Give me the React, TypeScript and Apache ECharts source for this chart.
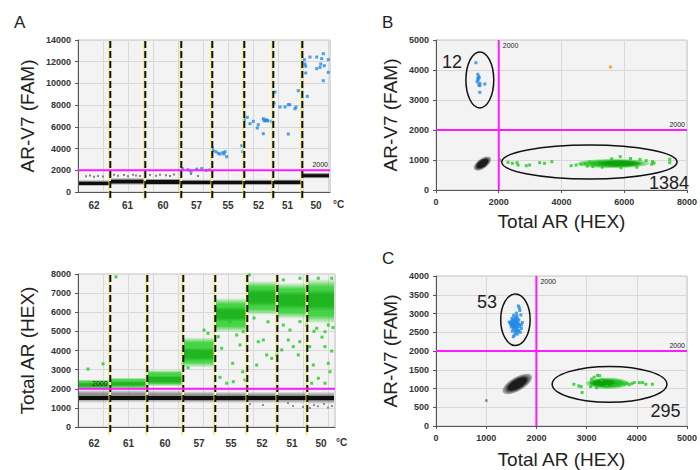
import React, { useEffect, useRef } from 'react';
import * as echarts from 'echarts';

const FONT = '"Liberation Sans", Arial, sans-serif';

// ---------- data ----------
const wellTemps = ['62', '61', '60', '57', '55', '52', '51', '50'];
// cumulative droplet-event positions of the well boundaries (relative units)
const wellBoundsFam = [0, 32, 67, 103, 134, 166, 195, 224, 252];
const wellBoundsHex = [0, 32, 69, 105, 137, 169, 199, 229, 257];

// dense negative (black) droplet bands per well: [low, high]
const famNegCore = [[640, 960], [770, 1140], [730, 1100], [710, 1060], [700, 1050], [710, 1060], [720, 1070], [1330, 1640]];
const famNegHalo = [[540, 1100], [640, 1300], [620, 1250], [610, 1170], [600, 1160], [610, 1170], [620, 1180], [1230, 1800]];
const hexNegCore = [[1390, 1630], [1400, 1640], [1400, 1640], [1380, 1630], [1380, 1630], [1390, 1630], [1390, 1630], [1380, 1630]];
const hexNegHalo = [[1250, 1950], [1270, 1950], [1260, 1920], [1240, 1880], [1240, 1860], [1240, 1850], [1230, 1860], [1200, 1850]];
// dense positive (green) bands per well in the HEX channel
const hexPosCore = [[2080, 2320], [2130, 2390], [2280, 2680], [3450, 4150], [5500, 6300], [6300, 7250], [6150, 7100], [6050, 7200]];
const hexPosHalo = [[1980, 2480], [2000, 2580], [2120, 2980], [3100, 4700], [4950, 6750], [5850, 7650], [5650, 7550], [5400, 7750]];

// AR-V7 (FAM) positive droplets in the temperature gradient [event, amplitude]
const famPosGradient = [
  [104.7, 2150], [110, 2050], [113, 1870], [118.7, 2100], [123.7, 2150], [128, 2000], [132, 2050],
  [134.3, 4020], [135.3, 3800], [138, 3710], [140.3, 3560], [142, 3500], [144.7, 3620], [146, 3500], [148.7, 3250], [147, 3710], [163.7, 4260], [164.7, 3710],
  [166.3, 6660], [169.3, 6880], [172, 6290], [175.3, 6510], [180.3, 6200], [179.3, 5900], [185.3, 6750], [186, 6600], [187, 6550], [188, 6650], [189, 6600], [190, 6550], [185.3, 5370], [193.7, 6510],
  [197, 9210], [196, 8200], [202, 7830], [207, 7830], [210.3, 8040], [211.8, 8040], [217, 7670], [218, 7830], [210.3, 5340], [220.3, 9330],
  [226.3, 12190], [227, 11790], [227.7, 11580], [227.7, 10960], [232, 12430], [238.7, 12430], [238.7, 11360], [243.7, 12280], [245.3, 12740], [242.7, 11790],
  [246.3, 11630], [242, 11480], [245.3, 10250], [250.3, 12190], [250.3, 11020], [229.3, 8810],
];
const famNegScatter = [
  [8, 1450], [12, 1520], [16, 1400], [20, 1480], [25, 1430], [36, 1580], [40, 1500], [46, 1560], [50, 1450], [55, 1600],
  [58, 1520], [62, 1480], [72, 1560], [78, 1500], [82, 1600], [88, 1550], [92, 1480], [96, 1620], [113, 1660], [120, 1480],
];
// Total AR (HEX) scattered droplets
const hexPosScatter = [
  [10, 3030], [25, 3300], [38, 7850],
  [104.7, 3330], [126, 5070], [130, 4900], [110, 3100],
  [143.7, 4115], [154.7, 3330], [164.7, 2890], [148.7, 2290], [155.3, 2370], [167, 2460], [142, 2600], [140.3, 4720], [152, 5510], [158.7, 4810], [165.3, 4980], [162, 4290],
  [178.7, 3240], [180.3, 4460], [185.3, 4550], [188.7, 3770], [193.7, 3590], [198.7, 3770], [171.3, 7950], [176, 5700], [190, 5500],
  [203.7, 4030], [205.3, 5330], [205.3, 7690], [210.3, 4550], [212, 5070], [215.3, 4200], [220.3, 3770], [221.7, 4460], [222, 5510], [222, 7780], [228.7, 5330],
  [231.7, 4200], [233.7, 2290], [235.3, 3240], [238.7, 5160], [240.3, 2550], [240.3, 7780], [247, 4980], [247, 4200], [247, 2290], [250.3, 3330], [250.3, 5330],
  [252, 2890], [253.7, 3970], [253.7, 7780], [236, 5000], [244, 4700], [255, 5200],
];
const hexNegScatter = [
  [172, 1200], [185, 1150], [210, 1250], [215, 1100], [225, 1050], [232, 1000], [236, 1150], [240, 1080], [246, 1200], [250, 1020], [254, 1100],
];

// 2D plot B: [HEX, FAM]
const bFamPos = [
  [1270, 4243], [1333, 3856], [1376, 3744], [1344, 3667], [1312, 3611], [1397, 3556],
  [1365, 3500], [1397, 3478], [1556, 3533], [1397, 3256], [1333, 3722], [1360, 3780],
];
const bHexPos = [
  [2032, 1000], [2296, 922], [2434, 889], [2582, 911], [2614, 833], [2878, 811], [2984, 833], [3302, 911], [3460, 889], [3693, 944],
  [4307, 811], [4466, 833], [4624, 856], [4750, 880], [4820, 800], [4900, 930], [5873, 1111], [5600, 1040], [6200, 1050], [6500, 1020],
  [6700, 980], [6899, 944], [6878, 856], [6950, 900], [7450, 1022], [7450, 911], [5000, 780], [5300, 760], [5900, 740], [6400, 760],
];
const bDoublePos = [[5560, 4100]];
// clusters: [centerHEX, centerFAM, spreadHEX, spreadFAM, tilt°]
const bNegCluster = [[1480, 880, 320, 170, 35]];
const bHexCluster = [[5650, 880, 1150, 150, 0]];
const bHexCore = [[5850, 885, 700, 105, 0]];
// gates: [centerHEX, centerFAM, radiusHEX, radiusFAM]
const bGates = [[1397, 3667, 444, 933], [4889, 933, 2794, 567]];
const bCounts = ['12', '1384'];
const bCountPos = [[508, 4267], [7429, 233]];

// 2D plot C
const cFamPos = [
  [1641, 3200], [1660, 3150], [1670, 3080], [1600, 3010], [1545, 2950], [1690, 2960], [1580, 2900], [1620, 2870], [1530, 2850], [1560, 2820],
  [1590, 2800], [1505, 2790], [1540, 2780], [1570, 2760], [1610, 2760], [1480, 2750], [1520, 2740], [1550, 2730], [1590, 2720], [1640, 2720],
  [1500, 2700], [1560, 2700], [1610, 2690], [1530, 2680], [1580, 2660], [1660, 2650], [1500, 2640], [1620, 2630], [1560, 2620], [1700, 2600],
  [1540, 2590], [1600, 2560], [1650, 2550], [1520, 2530], [1680, 2500], [1580, 2480], [1620, 2450], [1560, 2420], [1540, 2380], [1700, 2690],
  [1460, 2770], [1650, 2830], [1720, 2760], [1585, 2840], [1610, 2940], [1545, 2660], [1595, 2610], [1630, 2780], [1515, 2870], [1665, 2700],
  [1575, 2540], [1625, 2520], [1490, 2720],
];
const cHexPos = [
  [2747, 1113], [2845, 1068], [2891, 1050], [2910, 893], [3217, 1351], [3260, 1340], [3150, 1300], [3100, 1250], [3080, 1050], [3700, 1150],
  [3750, 1120], [3800, 1140], [3850, 1100], [3900, 1130], [3950, 1160], [4050, 1157], [4115, 1157], [4180, 1113], [4310, 1113], [3650, 1100],
  [3600, 1180], [3550, 1090], [3400, 1060], [3300, 1230], [3200, 1020],
];
const cNegOutlier = [[1003, 680]];
const cNegCluster = [[1620, 1120, 332, 185, 30]];
const cHexCluster = [[3420, 1140, 430, 150, 0]];
const cHexCore = [[3330, 1150, 270, 100, 0]];
const cGates = [[1582, 2834, 293, 689], [3457, 1113, 1143, 477]];
const cCounts = ['53', '295'];
const cCountPos = [[1016, 3311], [4570, 397]];

const threshold = 2000;

// ---------- helpers ----------
const C_BLUE = '#1f8ae6';
const C_GREEN = '#22c822';
const C_MAGENTA = '#ff1aff';

function bandData(bounds: number[], bands: number[][]) {
  return bands.map((b, i) => [bounds[i], bounds[i + 1], b[0], b[1]]);
}

function softFill(rgb: string, peak: number, edge: number) {
  return new echarts.graphic.LinearGradient(0, 0, 0, 1, [
    { offset: 0, color: `rgba(${rgb},0)` },
    { offset: edge, color: `rgba(${rgb},${peak})` },
    { offset: 1 - edge, color: `rgba(${rgb},${peak})` },
    { offset: 1, color: `rgba(${rgb},0)` },
  ]);
}

function bandSeries(idx: number, data: number[][], rgb: string, peak: number, edge: number, z: number) {
  return {
    type: 'custom', xAxisIndex: idx, yAxisIndex: idx, data, clip: true, silent: true, z,
    renderItem: (params: any, api: any) => {
      const p0 = api.coord([api.value(0), api.value(3)]);
      const p1 = api.coord([api.value(1), api.value(2)]);
      return {
        type: 'rect',
        shape: { x: p0[0] + 1, y: p0[1], width: p1[0] - p0[0] - 2, height: p1[1] - p0[1] },
        style: { fill: softFill(rgb, peak, edge) },
      };
    },
  };
}

function scatterSeries(idx: number, data: number[][], color: string, size: number, z = 3) {
  return {
    type: 'scatter', xAxisIndex: idx, yAxisIndex: idx, data, symbol: 'rect', symbolSize: size,
    itemStyle: { color }, silent: true, z,
  };
}

function wellLineSeries(idx: number, bounds: number[], yMax: number) {
  return {
    type: 'custom', xAxisIndex: idx, yAxisIndex: idx, clip: false, silent: true, z: 5,
    data: bounds.slice(1, -1).map((b) => [b, 0]),
    renderItem: (params: any, api: any) => {
      const t = api.coord([api.value(0), yMax]);
      const b = api.coord([api.value(0), 0]);
      return {
        type: 'group',
        children: [
          { type: 'line', shape: { x1: t[0] - 0.8, y1: t[1], x2: b[0] - 0.8, y2: b[1] + 8 }, style: { stroke: '#f2ea48', lineWidth: 1.4 } },
          { type: 'line', shape: { x1: t[0] + 0.3, y1: t[1] + 1, x2: b[0] + 0.3, y2: b[1] + 8 }, style: { stroke: '#111', lineWidth: 2, lineDash: [7, 3] } },
        ],
      };
    },
  };
}

function wellLabelSeries(idx: number, bounds: number[], dy: number) {
  return {
    type: 'custom', xAxisIndex: idx, yAxisIndex: idx, clip: false, silent: true, z: 6,
    data: wellTemps.map((_, i) => [(bounds[i] + bounds[i + 1]) / 2, 0]),
    renderItem: (params: any, api: any) => {
      const p = api.coord([api.value(0), 0]);
      return {
        type: 'text', x: p[0], y: p[1] + dy,
        style: {
          text: wellTemps[params.dataIndex], fill: '#333', font: `bold 10px ${FONT}`,
          align: 'center', verticalAlign: 'middle', textAlign: 'center', textVerticalAlign: 'middle',
        },
      };
    },
  };
}

function hThresholdSeries(idx: number, xMin: number, xMax: number, labelLeft: boolean) {
  return {
    type: 'custom', xAxisIndex: idx, yAxisIndex: idx, clip: false, silent: true, z: 8,
    data: [[xMin, threshold]],
    renderItem: (params: any, api: any) => {
      const a = api.coord([xMin, api.value(1)]);
      const b = api.coord([xMax, api.value(1)]);
      return {
        type: 'group',
        children: [
          { type: 'line', shape: { x1: a[0], y1: a[1], x2: b[0], y2: b[1] }, style: { stroke: C_MAGENTA, lineWidth: 2 } },
          {
            type: 'text', x: labelLeft ? a[0] + 14 : b[0] - 2, y: a[1] - 2,
            style: {
              text: String(threshold), fill: '#222', font: `7px ${FONT}`,
              align: labelLeft ? 'left' : 'right', verticalAlign: 'bottom',
              textAlign: labelLeft ? 'left' : 'right', textVerticalAlign: 'bottom',
            },
          },
        ],
      };
    },
  };
}

function vThresholdSeries(idx: number, yMax: number) {
  return {
    type: 'custom', xAxisIndex: idx, yAxisIndex: idx, clip: false, silent: true, z: 8,
    data: [[threshold, 0]],
    renderItem: (params: any, api: any) => {
      const a = api.coord([api.value(0), 0]);
      const b = api.coord([api.value(0), yMax]);
      return {
        type: 'group',
        children: [
          { type: 'line', shape: { x1: a[0], y1: a[1], x2: b[0], y2: b[1] }, style: { stroke: C_MAGENTA, lineWidth: 2 } },
          {
            type: 'text', x: b[0] + 4, y: b[1] + 2,
            style: {
              text: String(threshold), fill: '#222', font: `7px ${FONT}`,
              align: 'left', verticalAlign: 'top', textAlign: 'left', textVerticalAlign: 'top',
            },
          },
        ],
      };
    },
  };
}

function clusterSeries(idx: number, data: number[][], inner: string, outer: string, z: number) {
  return {
    type: 'custom', xAxisIndex: idx, yAxisIndex: idx, data, clip: true, silent: true, z,
    renderItem: (params: any, api: any) => {
      const c = api.coord([api.value(0), api.value(1)]);
      const s = api.size([api.value(2), api.value(3)]);
      return {
        type: 'ellipse', x: c[0], y: c[1], rotation: (api.value(4) * Math.PI) / 180,
        shape: { cx: 0, cy: 0, rx: s[0], ry: s[1] },
        style: {
          fill: new echarts.graphic.RadialGradient(0.5, 0.5, 0.5, [
            { offset: 0, color: inner },
            { offset: 0.6, color: inner },
            { offset: 1, color: outer },
          ]),
        },
      };
    },
  };
}

function gateSeries(idx: number, data: number[][]) {
  return {
    type: 'custom', xAxisIndex: idx, yAxisIndex: idx, data, clip: false, silent: true, z: 9,
    renderItem: (params: any, api: any) => {
      const c = api.coord([api.value(0), api.value(1)]);
      const s = api.size([api.value(2), api.value(3)]);
      return {
        type: 'ellipse', shape: { cx: c[0], cy: c[1], rx: s[0], ry: s[1] },
        style: { fill: 'none', stroke: '#111', lineWidth: 1.5 },
      };
    },
  };
}

function countSeries(idx: number, pos: number[][], labels: string[]) {
  return {
    type: 'custom', xAxisIndex: idx, yAxisIndex: idx, data: pos, clip: false, silent: true, z: 10,
    renderItem: (params: any, api: any) => {
      const c = api.coord([api.value(0), api.value(1)]);
      return {
        type: 'text', x: c[0], y: c[1],
        style: {
          text: labels[params.dataIndex], fill: '#222', font: `18px ${FONT}`,
          align: 'center', verticalAlign: 'middle', textAlign: 'center', textVerticalAlign: 'middle',
        },
      };
    },
  };
}

const tickLabel = {
  show: true, fontSize: 9, fontWeight: 'bold', color: '#333', fontFamily: FONT, margin: 7,
  formatter: (v: number) => String(v),
};
const splitLine = { show: true, lineStyle: { color: '#d9d9d9', width: 1 } };
const axisLine = { show: true, lineStyle: { color: '#555', width: 1 } };
const axisTick = { show: true, length: 3, lineStyle: { color: '#555' } };
const nameStyle = { fontSize: 19, color: '#222', fontFamily: FONT };

function gridBox(left: number, top: number, width: number, height: number) {
  return { left, top, width, height, show: true, backgroundColor: '#f3f3f3', borderColor: '#c4c4c4', borderWidth: 1 };
}

export default function App() {
  const ref = useRef<HTMLDivElement>(null);
  useEffect(() => {
    if (!ref.current) return;
    const chart = echarts.init(ref.current, undefined, { renderer: 'svg' });
    const option: any = {
      animation: false,
      textStyle: { fontFamily: FONT },
      grid: [gridBox(78, 40, 252, 152), gridBox(78, 274, 257, 153), gridBox(436, 40, 252, 150), gridBox(436, 276, 256, 151)],
      xAxis: [
        { type: 'value', gridIndex: 0, min: 0, max: 252, interval: 25, axisLabel: { show: false }, axisTick: { show: false }, splitLine, axisLine },
        { type: 'value', gridIndex: 1, min: 0, max: 257, interval: 25, axisLabel: { show: false }, axisTick: { show: false }, splitLine, axisLine },
        {
          type: 'value', gridIndex: 2, min: 0, max: 8000, interval: 2000, axisLabel: tickLabel, axisTick, splitLine, axisLine,
          name: 'Total AR (HEX)', nameLocation: 'middle', nameGap: 22, nameTextStyle: nameStyle,
        },
        {
          type: 'value', gridIndex: 3, min: 0, max: 5000, interval: 1000, axisLabel: tickLabel, axisTick, splitLine, axisLine,
          name: 'Total AR (HEX)', nameLocation: 'middle', nameGap: 24, nameTextStyle: nameStyle,
        },
      ],
      yAxis: [
        {
          type: 'value', gridIndex: 0, min: 0, max: 14000, interval: 2000, axisLabel: tickLabel, axisTick, splitLine, axisLine,
          name: 'AR-V7 (FAM)', nameLocation: 'middle', nameGap: 41, nameRotate: 90, nameTextStyle: nameStyle,
        },
        {
          type: 'value', gridIndex: 1, min: 0, max: 8000, interval: 1000, axisLabel: tickLabel, axisTick, splitLine, axisLine,
          name: 'Total AR (HEX)', nameLocation: 'middle', nameGap: 41, nameRotate: 90, nameTextStyle: nameStyle,
        },
        {
          type: 'value', gridIndex: 2, min: 0, max: 5000, interval: 1000, axisLabel: tickLabel, axisTick, splitLine, axisLine,
          name: 'AR-V7 (FAM)', nameLocation: 'middle', nameGap: 36, nameRotate: 90, nameTextStyle: nameStyle,
        },
        {
          type: 'value', gridIndex: 3, min: 0, max: 4000, interval: 500, axisLabel: tickLabel, axisTick, splitLine, axisLine,
          name: 'AR-V7 (FAM)', nameLocation: 'middle', nameGap: 36, nameRotate: 90, nameTextStyle: nameStyle,
        },
      ],
      graphic: [
        { type: 'text', left: 14, top: 14, style: { text: 'A', font: `17px ${FONT}`, fill: '#222' } },
        { type: 'text', left: 382, top: 14, style: { text: 'B', font: `17px ${FONT}`, fill: '#222' } },
        { type: 'text', left: 382, top: 250, style: { text: 'C', font: `17px ${FONT}`, fill: '#222' } },
        { type: 'text', left: 333, top: 199, style: { text: '°C', font: `bold 10px ${FONT}`, fill: '#333' } },
        { type: 'text', left: 336, top: 437, style: { text: '°C', font: `bold 10px ${FONT}`, fill: '#333' } },
      ],
      series: [
        // Panel A: AR-V7 (FAM) temperature gradient
        bandSeries(0, bandData(wellBoundsFam, famNegHalo), '80,80,80', 0.8, 0.25, 1),
        bandSeries(0, bandData(wellBoundsFam, famNegCore), '14,14,14', 1, 0.1, 2),
        scatterSeries(0, famNegScatter, '#666', 2),
        scatterSeries(0, famPosGradient, C_BLUE, 3),
        wellLineSeries(0, wellBoundsFam, 14000),
        wellLabelSeries(0, wellBoundsFam, 13),
        hThresholdSeries(0, 0, 252, false),

        // Panel A (lower): Total AR (HEX) temperature gradient
        bandSeries(1, bandData(wellBoundsHex, hexNegHalo), '110,110,110', 0.75, 0.3, 1),
        bandSeries(1, bandData(wellBoundsHex, hexNegCore), '14,14,14', 1, 0.12, 2),
        bandSeries(1, bandData(wellBoundsHex, hexPosHalo), '52,208,52', 0.9, 0.18, 1),
        bandSeries(1, bandData(wellBoundsHex, hexPosCore), '20,170,20', 0.75, 0.25, 2),
        scatterSeries(1, hexNegScatter, '#777', 2),
        scatterSeries(1, hexPosScatter, C_GREEN, 3),
        wellLineSeries(1, wellBoundsHex, 8000),
        wellLabelSeries(1, wellBoundsHex, 16),
        hThresholdSeries(1, 0, 257, true),

        // Panel B
        clusterSeries(2, bNegCluster, '#1c1c1c', 'rgba(120,120,120,0.5)', 2),
        clusterSeries(2, bHexCluster, '#20c020', 'rgba(50,205,50,0.4)', 2),
        clusterSeries(2, bHexCore, '#0ea00e', 'rgba(20,170,20,0.6)', 3),
        scatterSeries(2, bHexPos, C_GREEN, 3),
        scatterSeries(2, bFamPos, C_BLUE, 3),
        scatterSeries(2, bDoublePos, '#ff8a1e', 3),
        hThresholdSeries(2, 0, 8000, false),
        vThresholdSeries(2, 5000),
        gateSeries(2, bGates),
        countSeries(2, bCountPos, bCounts),

        // Panel C
        clusterSeries(3, cNegCluster, '#1c1c1c', 'rgba(120,120,120,0.5)', 2),
        clusterSeries(3, cHexCluster, '#20c020', 'rgba(50,205,50,0.4)', 2),
        clusterSeries(3, cHexCore, '#0ea00e', 'rgba(20,170,20,0.6)', 3),
        scatterSeries(3, cNegOutlier, '#666', 2.5),
        scatterSeries(3, cHexPos, C_GREEN, 3),
        scatterSeries(3, cFamPos, C_BLUE, 3),
        hThresholdSeries(3, 0, 5000, false),
        vThresholdSeries(3, 4000),
        gateSeries(3, cGates),
        countSeries(3, cCountPos, cCounts),
      ],
    };
    chart.setOption(option);
    return () => chart.dispose();
  }, []);
  return <div ref={ref} style={{ position: 'absolute', left: 0, top: 0, width: 700, height: 470 }} />;
}
